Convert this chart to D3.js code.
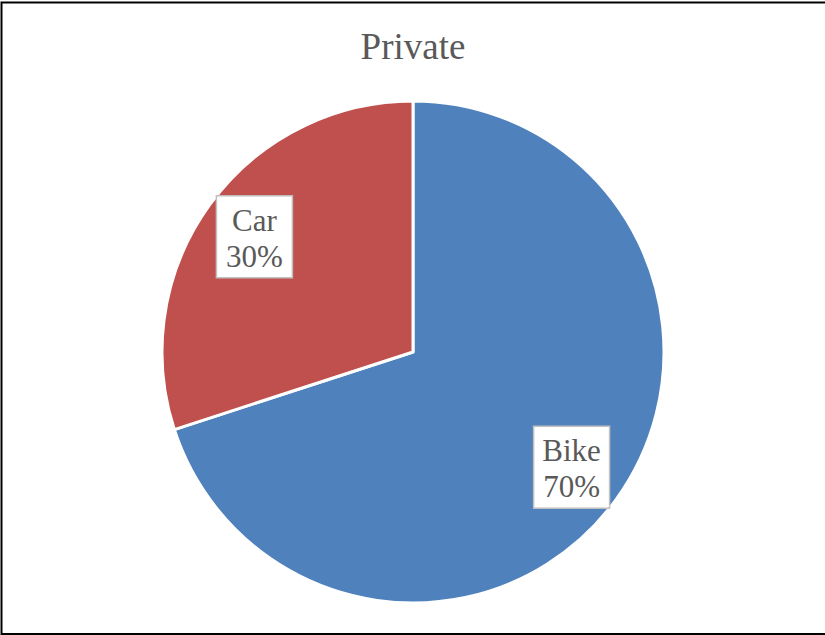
<!DOCTYPE html>
<html>
<head>
<meta charset="utf-8">
<script src="https://cdn.jsdelivr.net/npm/d3@7"></script>
<style>
  html, body { margin: 0; padding: 0; background: #fff; }
  svg { display: block; }
</style>
</head>
<body>
<svg id="chart" width="825" height="635"></svg>
<script>
// Share of private transport by mode
const chartTitle = "Private";
const categories = ["Bike", "Car"];
const values = [70, 30];
const colors = ["#4F81BD", "#C0504D"];

const svg = d3.select("#chart");
const W = 825, H = 635;
const cx = 413, cy = 352, radius = 251;
const font = "'Liberation Serif', 'Times New Roman', serif";
const textColor = "#595959";

// Outer frame
svg.append("rect")
  .attr("x", 1.5).attr("y", 2.5)
  .attr("width", W + 10).attr("height", H - 3.5)
  .attr("fill", "#fff")
  .attr("stroke", "#000")
  .attr("stroke-width", 2);

// Title
svg.append("text")
  .attr("x", cx).attr("y", 59)
  .attr("text-anchor", "middle")
  .attr("font-family", font)
  .attr("font-size", 37)
  .attr("fill", textColor)
  .text(chartTitle);

const data = categories.map((c, i) => ({ name: c, value: values[i], color: colors[i] }));
const total = d3.sum(values);

const pie = d3.pie().value(d => d.value).sort(null);
const arcs = pie(data);
const arc = d3.arc().innerRadius(0).outerRadius(radius);
const labelArc = d3.arc().innerRadius(radius * 0.781).outerRadius(radius * 0.781);

const g = svg.append("g").attr("transform", `translate(${cx},${cy})`);

g.selectAll("path.slice")
  .data(arcs)
  .join("path")
  .attr("class", "slice")
  .attr("d", arc)
  .attr("fill", d => d.data.color)
  .attr("stroke", "#fff")
  .attr("stroke-width", 3)
  .attr("stroke-linejoin", "round");

// Data labels: category name and percentage in a bordered box
const labels = g.selectAll("g.label")
  .data(arcs)
  .join("g")
  .attr("class", "label")
  .attr("transform", d => `translate(${labelArc.centroid(d)})`);

const boxW = 76, boxH = 82, lineGap = 36;
labels.append("rect")
  .attr("x", -boxW / 2).attr("y", -boxH / 2)
  .attr("width", boxW).attr("height", boxH)
  .attr("fill", "#fff")
  .attr("stroke", "#BFBFBF")
  .attr("stroke-width", 1.5);

labels.append("text")
  .attr("text-anchor", "middle")
  .attr("font-family", font)
  .attr("font-size", 31)
  .attr("fill", textColor)
  .selectAll("tspan")
  .data(d => [d.data.name, Math.round(d.data.value / total * 100) + "%"])
  .join("tspan")
  .attr("x", 0)
  .attr("y", (d, i) => -6 + i * lineGap)
  .text(d => d);
</script>
</body>
</html>
